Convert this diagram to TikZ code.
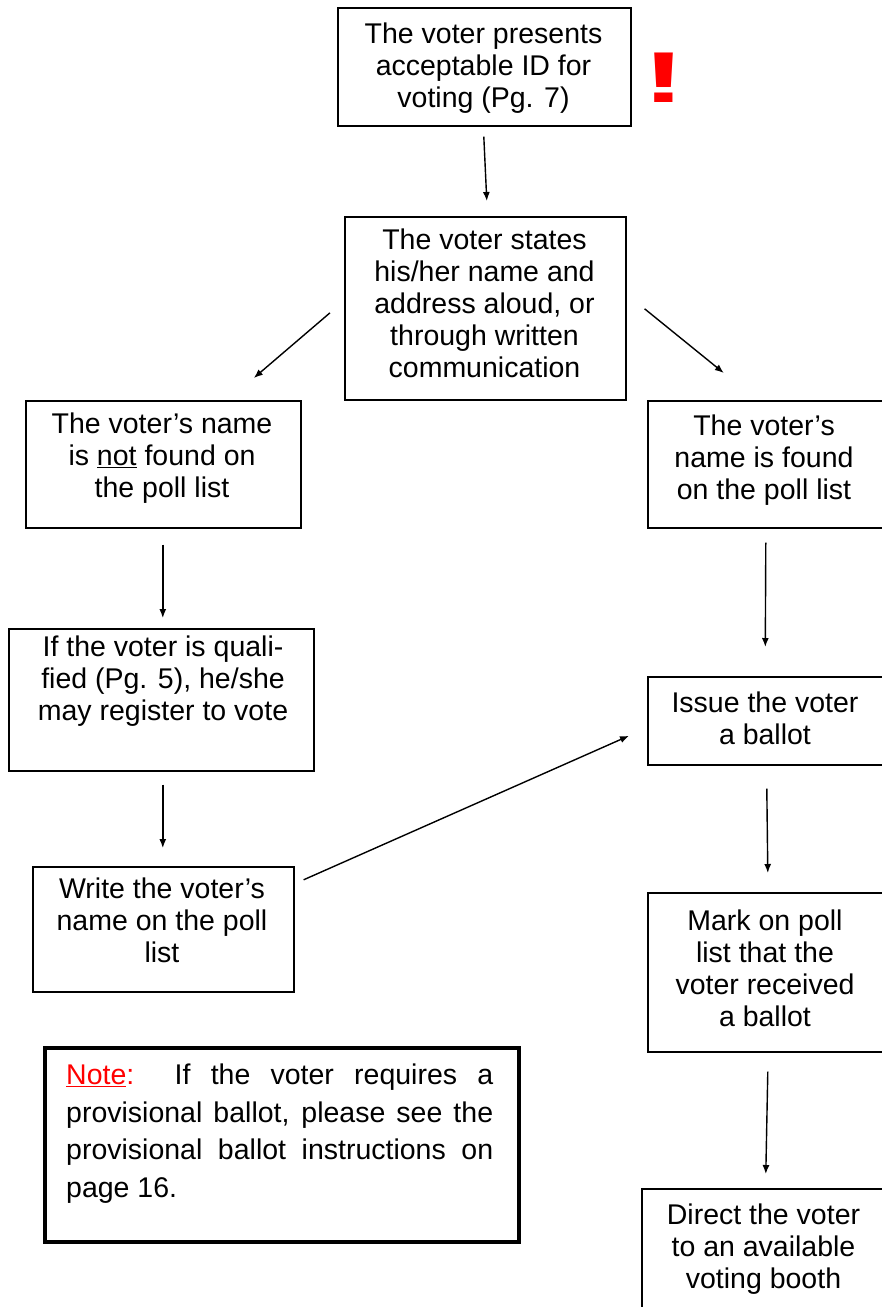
\documentclass[tikz,border=0pt]{standalone}
\usepackage{fontspec}
\setmainfont{Liberation Sans}
\usepackage{graphicx}
\usetikzlibrary{arrows.meta,calc}
\begin{document}
\begin{tikzpicture}[x=1pt,y=-1pt,
  box/.style={draw, line width=1.6pt, inner sep=0pt, anchor=north west},
  txt/.style={inner sep=0pt, anchor=north, align=center, font=\fontsize{28.5}{32}\selectfont},
  arr/.style={line width=1.4pt, -{Latex[length=9pt,width=7pt]}}
]
\useasboundingbox (0,0) rectangle (882,1307);
% boxes
\node[box, minimum width=293pt, minimum height=118pt] (b1) at (337,7) {};
\node[box, minimum width=281pt, minimum height=183pt] (b2) at (344,216) {};
\node[box, minimum width=275pt, minimum height=127pt] (b3) at (25,400) {};
\node[box, minimum width=237pt, minimum height=127pt] (b4) at (647,400) {};
\node[box, minimum width=305pt, minimum height=142pt] (b5) at (8,628) {};
\node[box, minimum width=237pt, minimum height=88pt] (b6) at (647,676) {};
\node[box, minimum width=261pt, minimum height=125pt] (b7) at (32,866) {};
\node[box, minimum width=237pt, minimum height=159pt] (b8) at (647,892) {};
\node[box, minimum width=245pt, minimum height=140pt] (b9) at (641,1188) {};
\node[box, line width=3.5pt, minimum width=474pt, minimum height=194pt] (note) at (43,1046) {};
% texts
\node[txt] (t1) at (483.5,21.1) {\strut The voter presents\\acceptable ID for\\voting (Pg. 7)};
\node[txt] (t2) at (484.5,227.1) {\strut The voter states\\his/her name and\\address aloud, or\\through written\\communication};
\node[txt] (t3) at (162,410.6) {\strut The voter’s name\\is \underline{not} found on\\the poll list};
\node[txt] (t4) at (764,413.1) {\strut The voter’s\\name is found\\on the poll list};
\node[txt] (t5) at (163,633.6) {\strut If the voter is quali-\\fied (Pg. 5), he/she\\may register to vote};
\node[txt] (t6) at (765,689.6) {\strut Issue the voter\\a ballot};
\node[txt] (t7) at (162,876.1) {\strut Write the voter’s\\name on the poll\\list};
\node[txt] (t8) at (765,908.1) {\strut Mark on poll\\list that the\\voter received\\a ballot};
\node[txt] (t9) at (763.5,1201.6) {\strut Direct the voter\\to an available\\voting booth};
\node[inner sep=0pt, anchor=north west, text width=427pt, align=justify,
      font=\fontsize{28.5}{37.5}\selectfont] (tn) at (66,1058.25)
  {\tolerance=10000\hyphenpenalty=10000\strut{\color{red}\underline{Note}:}\ \ If the voter requires a\linebreak
   provisional ballot, please see the\linebreak
   provisional ballot instructions on\linebreak
   page 16.};
\node[text=red, inner sep=0pt, anchor=base, font=\fontsize{72}{72}\selectfont\bfseries] (excl) at (664.5,102) {\scalebox{1.8}[1]{!}};
% arrows
\draw[arr] ($(b1.south)+(-0.5,10)$) -- ($(b2.north)+(1.5,-15)$);
\draw[arr] ($(b2.west)+(-14,4.5)$) -- ($(b3.north)+(90.5,-22)$);
\draw[arr] ($(b2.east)+(18,0.5)$) -- ($(b4.north)+(-42.5,-27)$);
\draw[arr] ($(b3.south)+(-0.5,16)$) -- ($(b5.north)+(1.5,-10)$);
\draw[arr] ($(b4.south)+(-0.5,14)$) -- ($(b6.north)+(-1,-29)$);
\draw[arr] ($(b5.south)+(1.5,13)$) -- ($(b7.north)+(-0.5,-18)$);
\draw[arr] ($(b7.east)+(9,-49.5)$) -- ($(b6.west)+(-18,15)$);
\draw[arr] ($(b6.south)+(0.5,23)$) -- ($(b8.north)+(1.5,-19)$);
\draw[arr] ($(b8.south)+(1.5,19)$) -- ($(b9.north)+(1.5,-14)$);
\end{tikzpicture}
\end{document}
